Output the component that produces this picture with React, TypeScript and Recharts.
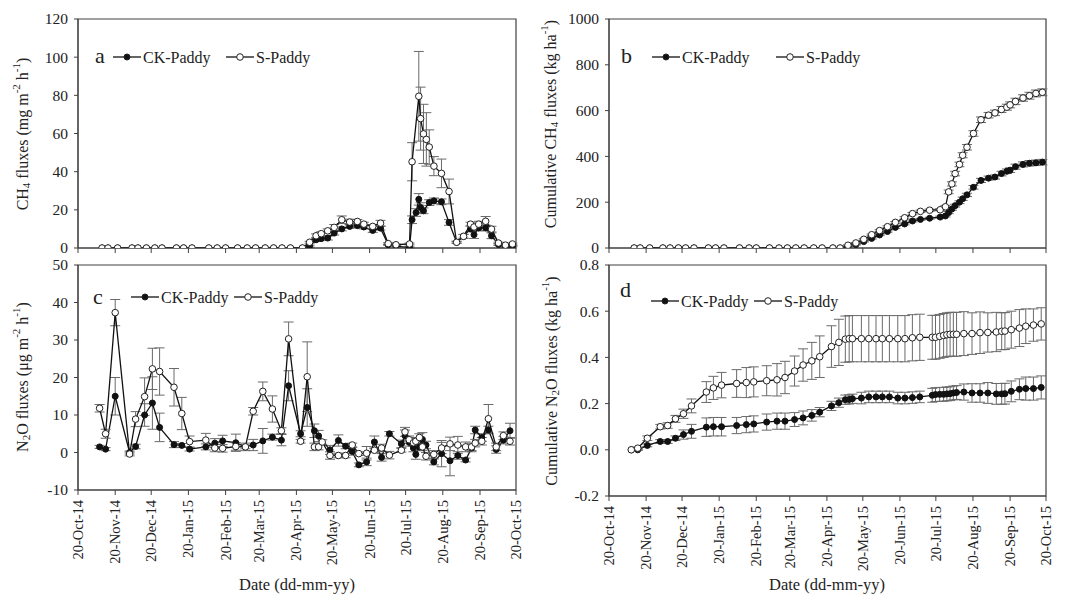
import React from 'react';
import { LineChart, Line, XAxis, YAxis, ErrorBar, ReferenceArea } from 'recharts';

const FONT = '"Liberation Serif", "Times New Roman", serif';
const PAGE_W = 1069;
const PAGE_H = 602;
const INK = '#222';
const AXIS = '#404040';
const ERR = '#6a6a6a';

// days after 20-Oct-14
const tickDays = [0, 31, 61, 92, 123, 151, 182, 212, 243, 273, 304, 335, 365];
const tickLabels = ['20-Oct-14', '20-Nov-14', '20-Dec-14', '20-Jan-15', '20-Feb-15', '20-Mar-15', '20-Apr-15',
    '20-May-15', '20-Jun-15', '20-Jul-15', '20-Aug-15', '20-Sep-15', '20-Oct-15'];

// (a) CH4 fluxes, mg m-2 h-1
const aDays = [20, 25, 33, 45, 50, 57, 64, 70, 82, 88, 95, 109, 116, 123, 133, 141, 148, 156, 163, 170, 177, 187,
    193, 198.4, 202.7, 208.1, 213.5, 219.8, 226.4, 232.8, 238.2, 245.6, 252.1, 258.5, 265, 276.3,
    278.4, 281.7, 284, 285.5, 287.9, 290.3, 292.7, 296.6, 302.9, 309.2,
    315.5, 321.3, 327.1, 330, 333.9, 339.7, 344.6, 350.4, 356.2, 362];
const aCK = [0, 0, 0, 0, 0, 0, 0, 0, 0, 0, 0, 0, 0, 0, 0, 0, 0, 0, 0, 0, 0, 0,
    1, 4.3, 4.9, 5.2, 7.8, 10, 11.3, 11.7, 11, 9.2, 10.4, 1.7, 0.9, 0.3,
    14.8, 18.6, 25.5, 21.2, 19.5, null, 23.8, 24.7, 24.2, 13.4,
    3, 6.1, 10, 7, 10.5, 10.5, 6.4, 1.8, 0.5, 1];
const aS = [0, 0, 0, 0, 0, 0, 0, 0, 0, 0, 0, 0, 0, 0, 0, 0, 0, 0, 0, 0, 0, 0,
    3, 6.4, 7.5, 9, 10.8, 14.8, 13.6, 13.9, 12.5, 11.3, 13, 2.3, 1.7, 2.1,
    45.2, null, 79.5, 67.8, 59.8, 56.9, 52.9, 42.9, 39.1, 29.6,
    3, 6.1, 12.5, 11, 12.5, 14, 9.9, 2.6, 1.5, 2.1];
const aCKErr = [0, 0, 0, 0, 0, 0, 0, 0, 0, 0, 0, 0, 0, 0, 0, 0, 0, 0, 0, 0, 0, 0,
    0.5, 0.8, 0.8, 1, 1, 1, 1, 1, 1, 1, 1, 0.3, 0.3, 0.3,
    2, 2, 3, 2.5, 1.5, 0, 1.5, 1.5, 1.5, 1.5,
    0.5, 1, 1.5, 2, 1.5, 1.5, 1.5, 0.5, 0.3, 0.3];
const aSErr = [0, 0, 0, 0, 0, 0, 0, 0, 0, 0, 0, 0, 0, 0, 0, 0, 0, 0, 0, 0, 0, 0,
    0.5, 1, 1, 1, 1.5, 2, 1.5, 1, 1, 1, 1.5, 0.5, 0.3, 0.5,
    10, 0, 23.5, 16.5, 15.5, 14, 9, 5, 7.5, 6.5,
    0.5, 1, 1, 1.5, 1.5, 2.5, 1.5, 0.5, 0.5, 0.5];

// (b) cumulative CH4, kg ha-1
const bDays = [21, 26, 34, 45, 51, 58, 64, 71, 83, 89, 96, 109, 117, 123, 134, 142, 149, 156, 163, 171, 178, 187, 193,
    199.6, 206.2, 212.8, 219.4, 226, 232.6, 239.2, 246.9, 253.5, 260.1, 267.8, 276.6,
    281, 283.7, 286.4, 289.1, 292.7, 295.4, 299, 304.4, 310.7, 317, 322.4, 327.8, 332.3, 335, 339.5, 345.8, 351.2, 356.6, 362];
const bCK = [0, 0, 0, 0, 0, 0, 0, 0, 0, 0, 0, 0, 0, 0, 0, 0, 0, 0, 0, 0, 0, 0, 0,
    5, 15, 28, 42, 57, 72, 90, 105, 118, 125, 130, 135,
    140, 155, 170, 185, 200, 215, 232, 265, 295, 305, 310, 325, 335, 340, 355, 365, 370, 372, 375];
const bS = [0, 0, 0, 0, 0, 0, 0, 0, 0, 0, 0, 0, 0, 0, 0, 0, 0, 0, 0, 0, 0, 0, 0,
    12, 22, 38, 58, 76, 93, 112, 132, 150, 160, 165, 167,
    180, 245, 280, 325, 365, 405, 440, 500, 560, 580, 590, 605, 615, 625, 640, 655, 665, 675, 680];
const bCKErr = [0, 0, 0, 0, 0, 0, 0, 0, 0, 0, 0, 0, 0, 0, 0, 0, 0, 0, 0, 0, 0, 0, 0,
    1, 2, 2, 3, 3, 3, 4, 4, 4, 4, 4, 4,
    4, 5, 5, 6, 6, 7, 7, 8, 9, 9, 9, 10, 10, 10, 11, 11, 12, 12, 12];
const bSErr = [0, 0, 0, 0, 0, 0, 0, 0, 0, 0, 0, 0, 0, 0, 0, 0, 0, 0, 0, 0, 0, 0, 0,
    2, 2, 3, 3, 4, 4, 4, 5, 5, 5, 5, 5,
    6, 8, 9, 10, 10, 11, 12, 12, 12, 12, 12, 13, 13, 13, 14, 14, 15, 15, 15];

// (c) N2O fluxes, ug m-2 h-1
const cDays = [18, 23, 31, 43, 48, 55.5, 62, 68, 80, 86.5, 93, 106.5, 114, 120.5, 131.5, 139.5, 146, 154, 162, 169.5,
    175.5, 185.5, 191, 197, 200.5, 203.5, 210, 217, 223, 228.5,
    234, 240.5, 247, 253, 259.5, 269.5, 272.5, 276, 279.5, 281.5,
    284.5, 287, 290, 296.5, 303, 310, 316.5, 323, 328, 331,
    336.5, 342, 348.5, 354.5, 360];
const cCK = [1.5, 0.9, 15.0, 0, 1.6, 10, 13.2, 6.7, 2.1, 1.9, 0.9, 1.5, 2.5, 3.1, 2.6, 1.5, 2.0, 3.1, 4.1, 3.3,
    17.8, 5.0, 12, 5.8, 4.4, null, 0.7, 3.2, 1.7, 0.3,
    -3.3, -2.5, 2.8, -1.3, 5.0, 2.3, 4.5, 2.7, 1.2, -0.5,
    1.5, 3.5, 2, -2.5, -0.3, -2.2, -0.8, -2.0, 1.2, 6,
    4, 6, 0.8, 3.3, 5.8];
const cS = [11.8, 5.0, 37.3, -0.4, 8.9, 14.9, 22.3, 21.6, 17.4, 10.4, 2.9, 3.3, 1.2, 1.1, 1.6, 1.5, 11.0, 16.3, 11.6, 5.8,
    30.3, 3, 20.2, 1.5, 1.5, 2.8, -0.8, -0.8, -0.8, 2.0,
    -0.3, -0.2, 0.6, 1.2, -0.7, 0.6, 5.5, 3.4, 2.6, 3,
    4, 1.5, -1, -0.5, 1.2, 2.3, 2.0, 1.5, 1.5, 2.5,
    3, 9, 1.5, 4.5, 3];
const cCKErr = [0.4, 0.4, 5, 0.4, 0.6, 3, 7, 3.8, 0.8, 0.5, 0.5, 0.8, 1.2, 1.5, 2.3, 0.5, 1.5, 3.3, 0.8, 1.5,
    4, 0.8, 5, 1.8, 1.5, 0, 1.2, 1.5, 0.7, 1,
    0.5, 1, 1.6, 1, 0.6, 1, 1.5, 1, 1, 1.3,
    1, 1.8, 1, 0.8, 3.5, 4, 1, 0.5, 1, 1,
    1, 1, 1, 1, 2];
const cSErr = [1, 1.2, 3.5, 0.5, 2, 5, 5.5, 6.3, 5, 4.3, 1.5, 1.8, 1, 1, 1, 1, 1, 2.5, 3.5, 0.8,
    4.5, 0.5, 9.3, 1, 0.8, 0.6, 1, 0.6, 0.6, 0.5,
    0.5, 1.8, 0.5, 1, 1, 0.5, 1.2, 1, 1, 1,
    1, 1, 1, 1, 1.5, 1.8, 2.3, 1.3, 1, 1,
    1, 3.8, 1, 1, 1];

// (d) cumulative N2O, kg ha-1
const dDays = [18.6, 24, 32, 42.8, 49, 55.5, 62.2, 68.9, 81.3, 87.2, 94, 106.6, 114.7, 120.9, 131.7, 140.3, 147, 155, 162.1, 169.4,
    176, 185.8, 192, 197.4, 200.6, 203.3, 210.8, 217, 223, 228.3, 234.2, 241.2, 247.2, 253.4, 259.6, 270, 272.7, 276.2, 279.5, 282.2,
    284.9, 287.6, 290.3, 296.4, 303.2, 309.9, 316.4, 323.5, 328, 330.7, 336, 342.8, 348.1, 354.5, 361];
const dCK = [0, 0, 0.019, 0.036, 0.036, 0.05, 0.066, 0.08, 0.098, 0.1, 0.1, 0.105, 0.109, 0.112, 0.12, 0.124, 0.124, 0.131, 0.138, 0.149,
    0.163, 0.19, 0.204, 0.217, 0.218, 0.221, 0.224, 0.229, 0.229, 0.229, 0.229, 0.224, 0.224, 0.226, 0.229, 0.236, 0.239, 0.24, 0.24, 0.242,
    0.243, 0.246, 0.248, 0.25, 0.246, 0.246, 0.246, 0.242, 0.242, 0.243, 0.253, 0.262, 0.265, 0.265, 0.27];
const dS = [0, 0.007, 0.05, 0.1, 0.105, 0.134, 0.156, 0.19, 0.25, 0.268, 0.28, 0.287, 0.291, 0.294, 0.299, 0.303, 0.313, 0.341, 0.367, 0.385,
    0.403, 0.447, 0.465, 0.479, 0.481, 0.481, 0.481, 0.481, 0.481, 0.481, 0.481, 0.481, 0.481, 0.485, 0.487, 0.487, 0.487, 0.491, 0.495, 0.498,
    0.5, 0.5, 0.5, 0.503, 0.503, 0.507, 0.508, 0.51, 0.513, 0.514, 0.52, 0.527, 0.535, 0.54, 0.545];
const dCKErr = [0, 0.003, 0.006, 0.008, 0.008, 0.01, 0.02, 0.03, 0.04, 0.04, 0.04, 0.035, 0.035, 0.035, 0.035, 0.035, 0.035, 0.03, 0.03, 0.025,
    0.02, 0.02, 0.02, 0.02, 0.02, 0.02, 0.025, 0.025, 0.025, 0.025, 0.025, 0.025, 0.025, 0.025, 0.025, 0.03, 0.03, 0.03, 0.03, 0.03,
    0.03, 0.03, 0.03, 0.035, 0.04, 0.04, 0.045, 0.045, 0.045, 0.045, 0.045, 0.045, 0.05, 0.05, 0.05];
const dSErr = [0, 0.005, 0.01, 0.01, 0.012, 0.015, 0.02, 0.03, 0.045, 0.05, 0.055, 0.06, 0.065, 0.065, 0.065, 0.07, 0.07, 0.065, 0.07, 0.08,
    0.09, 0.09, 0.1, 0.1, 0.1, 0.1, 0.1, 0.1, 0.1, 0.1, 0.1, 0.1, 0.1, 0.1, 0.1, 0.095, 0.095, 0.095, 0.095, 0.095,
    0.095, 0.095, 0.095, 0.095, 0.09, 0.09, 0.085, 0.085, 0.08, 0.08, 0.08, 0.08, 0.075, 0.07, 0.07];

// axis titles, split into normal / sub / sup pieces
type Seg = [string, 'n' | 'sub' | 'sup'];
const titleA: Seg[] = [['CH', 'n'], ['4', 'sub'], [' fluxes (mg m', 'n'], ['-2', 'sup'], [' h', 'n'], ['-1', 'sup'], [')', 'n']];
const titleB: Seg[] = [['Cumulative CH', 'n'], ['4', 'sub'], [' fluxes (kg ha', 'n'], ['-1', 'sup'], [')', 'n']];
const titleC: Seg[] = [['N', 'n'], ['2', 'sub'], ['O fluxes (μg m', 'n'], ['-2', 'sup'], [' h', 'n'], ['-1', 'sup'], [')', 'n']];
const titleD: Seg[] = [['Cumulative N', 'n'], ['2', 'sub'], ['O fluxes (kg ha', 'n'], ['-1', 'sup'], [')', 'n']];

type Row = { day: number; ck: number | null; s: number | null; ckErr: number; sErr: number };

const toRows = (days: number[], ck: (number | null)[], s: (number | null)[], ckErr: number[], sErr: number[]): Row[] =>
    days.map((day, i) => ({ day, ck: ck[i], s: s[i], ckErr: ckErr[i], sErr: sErr[i] }));

const renderDateTick = (props: any) => {
    const { x, y, payload } = props;
    const label = tickLabels[tickDays.indexOf(payload.value)];
    return (
        <text transform={`translate(${x},${y}) rotate(-90)`} textAnchor="end" dy="0.35em"
            fontSize={14.5} fontFamily={FONT} fill={INK}>{label}</text>
    );
};

const renderNoTick = () => <g />;

interface PanelProps {
    data: Row[];
    box: [number, number, number, number];
    yDomain: [number, number];
    yTicks: number[];
    yFmt?: (v: number) => string;
    showDates: boolean;
}

const Panel: React.FC<PanelProps> = ({ data, box, yDomain, yTicks, yFmt = (v) => String(v), showDates }) => {
    const [x0, y0, x1, y1] = box;
    const xh = 20;
    const renderYTick = (props: any) => (
        <text x={props.x} y={props.y} textAnchor="end" dy="0.35em"
            fontSize={15.5} fontFamily={FONT} fill={INK}>{yFmt(props.payload.value)}</text>
    );
    return (
        <div style={{ position: 'absolute', left: 0, top: 0 }}>
            <LineChart width={PAGE_W} height={PAGE_H} data={data}
                margin={{ top: y0, left: x0 - 60, right: PAGE_W - x1, bottom: PAGE_H - y1 - xh }}>
                <XAxis dataKey="day" type="number" domain={[0, 365]} ticks={tickDays} interval={0} height={xh}
                    stroke={AXIS} tickSize={5} tickMargin={5} tick={showDates ? renderDateTick : renderNoTick} allowDataOverflow />
                <YAxis type="number" domain={yDomain} ticks={yTicks} interval={0} width={60}
                    stroke={AXIS} tickSize={4} tickMargin={6} tick={renderYTick} allowDataOverflow />
                <ReferenceArea x1={0} x2={365} y1={yDomain[0]} y2={yDomain[1]} fill="none" stroke={AXIS} strokeWidth={1.2} fillOpacity={0} />
                <Line type="linear" dataKey="ck" stroke="#111" strokeWidth={1.3} connectNulls isAnimationActive={false}
                    dot={{ r: 3, fill: '#111', stroke: '#111', strokeWidth: 1 }} activeDot={false}>
                    <ErrorBar dataKey="ckErr" direction="y" width={5} stroke={ERR} strokeWidth={1} isAnimationActive={false} />
                </Line>
                <Line type="linear" dataKey="s" stroke="#111" strokeWidth={1.3} connectNulls isAnimationActive={false}
                    dot={{ r: 3.3, fill: '#fff', stroke: '#222', strokeWidth: 1 }} activeDot={false}>
                    <ErrorBar dataKey="sErr" direction="y" width={5} stroke={ERR} strokeWidth={1} isAnimationActive={false} />
                </Line>
            </LineChart>
        </div>
    );
};

const YTitle: React.FC<{ x: number; y: number; segs: Seg[] }> = ({ x, y, segs }) => {
    let shift = 0;
    return (
        <text transform={`translate(${x},${y}) rotate(-90)`} textAnchor="middle" dominantBaseline="central" fontSize={16}>
            {segs.map(([t, kind], i) => {
                const target = kind === 'sub' ? 4 : kind === 'sup' ? -6 : 0;
                const dy = target - shift;
                shift = target;
                return <tspan key={i} dy={dy} fontSize={kind === 'n' ? 16 : 11}>{t}</tspan>;
            })}
        </text>
    );
};

const LegendItem: React.FC<{ x: number; y: number; filled: boolean; label: string }> = ({ x, y, filled, label }) => (
    <g>
        <line x1={x} x2={x + 28} y1={y} y2={y} stroke="#111" strokeWidth={1.3} />
        <circle cx={x + 14} cy={y} r={filled ? 3 : 3.3} fill={filled ? '#111' : '#fff'} stroke="#222" strokeWidth={1} />
        <text x={x + 30} y={y} dominantBaseline="central" fontSize={16}>{label}</text>
    </g>
);

const Overlay: React.FC = () => (
    <svg width={PAGE_W} height={PAGE_H} style={{ position: 'absolute', left: 0, top: 0, pointerEvents: 'none' }}
        fontFamily={FONT} fill={INK}>
        <YTitle x={22} y={134} segs={titleA} />
        <YTitle x={550} y={124} segs={titleB} />
        <YTitle x={22} y={377} segs={titleC} />
        <YTitle x={551} y={381} segs={titleD} />

        <text x={95} y={63} fontSize={22}>a</text>
        <text x={621} y={63} fontSize={22}>b</text>
        <text x={93} y={304} fontSize={22}>c</text>
        <text x={620} y={297} fontSize={22}>d</text>

        <LegendItem x={113} y={57} filled label="CK-Paddy" />
        <LegendItem x={226} y={57} filled={false} label="S-Paddy" />
        <LegendItem x={652} y={57} filled label="CK-Paddy" />
        <LegendItem x={776} y={57} filled={false} label="S-Paddy" />
        <LegendItem x={131} y={297} filled label="CK-Paddy" />
        <LegendItem x={234} y={297} filled={false} label="S-Paddy" />
        <LegendItem x={651} y={301} filled label="CK-Paddy" />
        <LegendItem x={754} y={301} filled={false} label="S-Paddy" />

        <text x={297} y={590} textAnchor="middle" fontSize={16.5}>Date (dd-mm-yy)</text>
        <text x={827} y={590} textAnchor="middle" fontSize={16.5}>Date (dd-mm-yy)</text>
    </svg>
);

const App: React.FC = () => {
    return (
        <div style={{ position: 'absolute', left: 0, top: 0, width: PAGE_W, height: PAGE_H, background: '#fff', overflow: 'hidden' }}>
            <Panel data={toRows(aDays, aCK, aS, aCKErr, aSErr)} box={[78, 19, 516, 248]} yDomain={[0, 120]}
                yTicks={[0, 20, 40, 60, 80, 100, 120]} showDates={false} />
            <Panel data={toRows(bDays, bCK, bS, bCKErr, bSErr)} box={[609, 19, 1046, 248]} yDomain={[0, 1000]}
                yTicks={[0, 200, 400, 600, 800, 1000]} showDates={false} />
            <Panel data={toRows(cDays, cCK, cS, cCKErr, cSErr)} box={[78, 265, 516, 490]} yDomain={[-10, 50]}
                yTicks={[-10, 0, 10, 20, 30, 40, 50]} showDates />
            <Panel data={toRows(dDays, dCK, dS, dCKErr, dSErr)} box={[609, 265, 1046, 496]} yDomain={[-0.2, 0.8]}
                yTicks={[-0.2, 0, 0.2, 0.4, 0.6, 0.8]} yFmt={(v) => v.toFixed(1)} showDates />
            <Overlay />
        </div>
    );
};

export default App;
